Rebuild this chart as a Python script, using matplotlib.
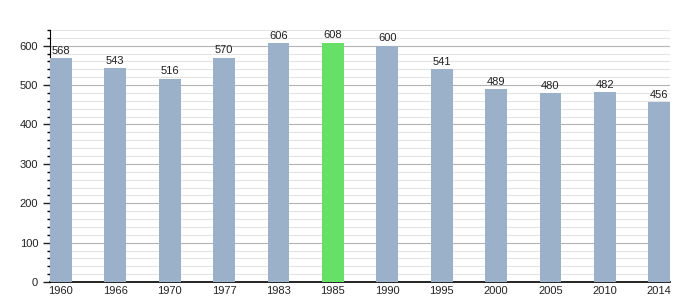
import numpy as np
import matplotlib
matplotlib.use('Agg')
import matplotlib.pyplot as plt
from matplotlib.ticker import MultipleLocator

plt.rcParams['font.family'] = ['Liberation Sans', 'DejaVu Sans']

years = ['1960', '1966', '1970', '1977', '1983', '1985', '1990', '1995', '2000', '2005', '2010', '2014']
population = [568, 543, 516, 570, 606, 608, 600, 541, 489, 480, 482, 456]
highlight = '1985'

bar_color = '#9bb1ca'
hl_color = '#66e066'
width = 0.4

fig = plt.figure(figsize=(7, 3), dpi=100)
ax = fig.add_axes([0.0714, 0.06, 0.886, 0.84])

x = np.arange(len(years))
colors = [hl_color if y == highlight else bar_color for y in years]
ax.bar(x, population, width=width, color=colors, zorder=3)

# valeurs au-dessus des barres
for xi, v in zip(x, population):
    ax.text(xi, v + 6, str(v), ha='center', va='bottom', fontsize=8, color='#222222', zorder=4)

ax.set_xlim(-width / 2, len(years) - 1 + width / 2)
ax.set_ylim(0, 640)
ax.set_xticks(x)
ax.set_xticklabels(years)
ax.yaxis.set_major_locator(MultipleLocator(100))
ax.yaxis.set_minor_locator(MultipleLocator(20))
ax.grid(which='major', axis='y', color='#b4b4b4', linewidth=0.8, zorder=1)
ax.grid(which='minor', axis='y', color='#e4e4e4', linewidth=0.8, zorder=1)

ax.tick_params(axis='both', labelsize=8, colors='#222222')
ax.tick_params(axis='x', length=0, pad=3)
ax.tick_params(axis='y', which='major', length=5, width=1)
ax.tick_params(axis='y', which='minor', length=2.5, width=1)
for s in ['top', 'right']:
    ax.spines[s].set_visible(False)
ax.spines['left'].set_color('black')
ax.spines['bottom'].set_color('black')
ax.spines['bottom'].set_linewidth(1.2)

fig.savefig('out.png', dpi=100)
